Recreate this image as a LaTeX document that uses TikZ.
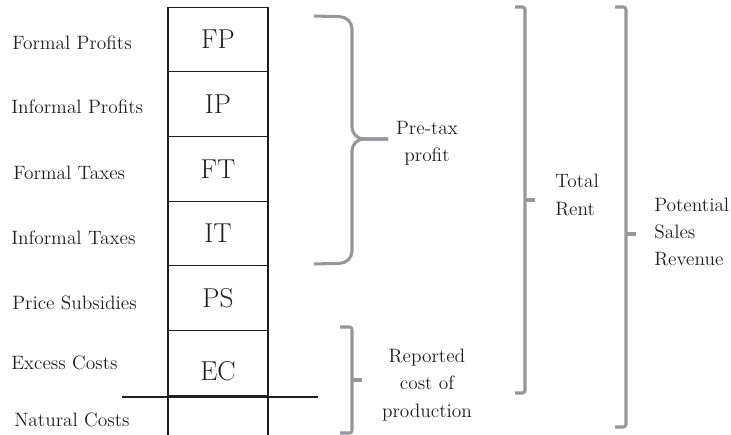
\documentclass[tikz,border=0pt]{standalone}
\usepackage{tikz}
\usetikzlibrary{positioning}
\definecolor{bracegray}{RGB}{150,151,156}
\definecolor{inkblack}{RGB}{35,31,32}

\begin{document}
\begin{tikzpicture}[
  x=0.75pt, y=-0.75pt,
  stackbox/.style={draw=inkblack, line width=0.8pt, outer sep=0pt, inner sep=0pt,
              minimum width=75pt, minimum height=48.5pt, text=inkblack,
              font=\fontsize{20.5}{24}\selectfont},
  rowlabel/.style={anchor=west, inner sep=0pt, text=inkblack,
              font=\fontsize{14.5}{17}\selectfont},
  bracetext/.style={align=center, inner sep=0pt, text=inkblack,
              font=\fontsize{14.5}{20.5}\selectfont},
  bracket/.style={draw=bracegray, line width=2.3pt, rounded corners=2pt},
  node distance=0pt
]
\useasboundingbox (0,0) rectangle (731,435);

% stacked components
\node[stackbox] (FP) at (218,39.4) {FP};
\node[stackbox, below=of FP] (IP) {IP};
\node[stackbox, below=of IP] (FT) {FT};
\node[stackbox, below=of FT] (IT) {IT};
\node[stackbox, below=of IT] (PS) {PS};
\node[stackbox, below=of PS] (EC) {\raisebox{-6pt}[\height][\depth]{EC}};
\node[stackbox, draw=none, minimum height=30pt, below=of EC] (NC) {};
\draw[inkblack, line width=0.8pt] (NC.north west) -- (NC.south west)
  (NC.north east) -- (NC.south east);
\draw[inkblack, line width=1.4pt] (122,397) -- (318,397);

% row labels
\node[rowlabel] (lFP) at (12,43)  {Formal Profits};
\node[rowlabel] (lIP) at (11,107) {Informal Profits};
\node[rowlabel] (lFT) at (13,173) {Formal Taxes};
\node[rowlabel] (lIT) at (11,238) {Informal Taxes};
\node[rowlabel] (lPS) at (12,303) {Price Subsidies};
\node[rowlabel] (lEC) at (11,363) {Excess Costs};
\node[rowlabel] (lNC) at (14,420) {Natural Costs};

% pre-tax profit brace
\draw[bracket, rounded corners=9pt] (314,16) -- (352,17) -- (352,139) -- (388,139);
\draw[bracket, rounded corners=9pt] (314,264) -- (352,263) -- (352,139) -- (388,139);
\node[bracetext] (ptp) at (427,143) {Pre-tax\\profit};

% reported cost bracket
\draw[bracket] (340,327) -- (352,327) -- (352,433) -- (340,433);
\draw[bracket] (352,380) -- (362,380);
\node[bracetext] (rcp) at (427,385) {Reported\\cost of\\production};

% total rent bracket
\draw[bracket] (515,7) -- (525,7) -- (525,393) -- (515,393);
\draw[bracket] (525,200) -- (535,200);
\node[bracetext, align=left, anchor=west] (tr) at (555,195) {Total\\Rent};

% potential sales revenue bracket
\draw[bracket] (615,7) -- (626,7) -- (626,427) -- (615,427);
\draw[bracket] (626,234) -- (636,234);
\node[bracetext, align=left, anchor=west] (psr) at (654,232) {Potential\\Sales\\Revenue};

\end{tikzpicture}
\end{document}
